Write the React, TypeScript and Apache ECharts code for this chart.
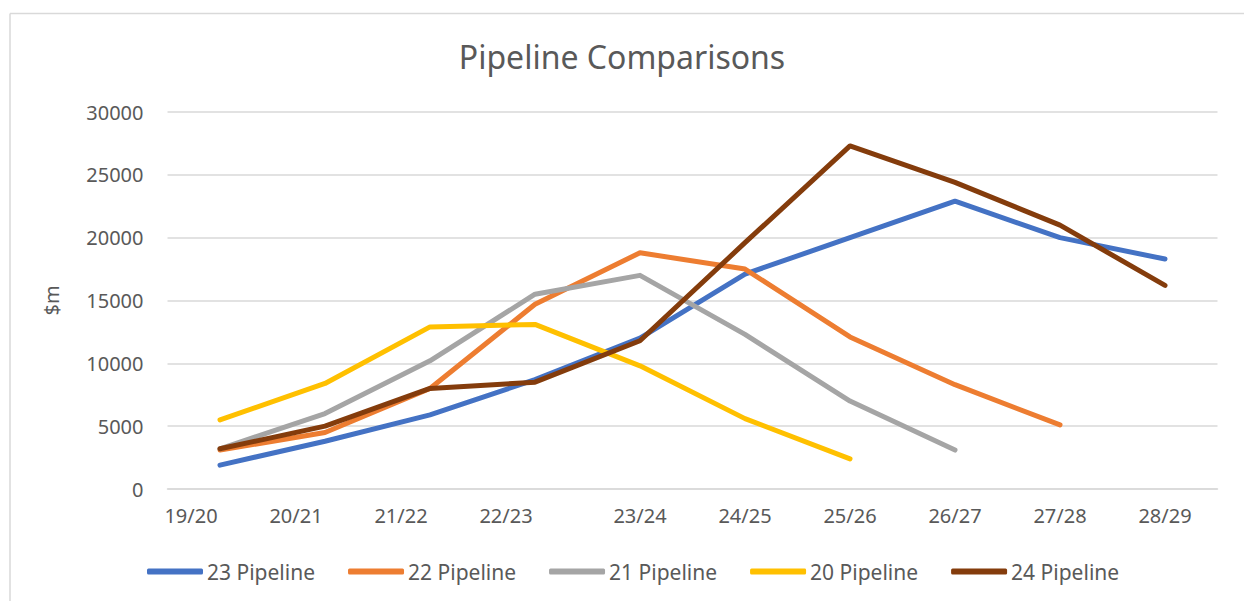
import React, { useEffect, useRef } from "react";
import * as echarts from "echarts";

const categories = ["19/20", "20/21", "21/22", "22/23", "23/24", "24/25", "25/26", "26/27", "27/28", "28/29"];
const pipeline23 = [1900, 3800, 5900, 8700, 12000, 17100, 20000, 22900, 20000, 18300];
const pipeline22 = [3100, 4500, 8000, 14700, 18800, 17500, 12100, 8300, 5100];
const pipeline21 = [3200, 6000, 10200, 15500, 17000, 12300, 7000, 3100];
const pipeline20 = [5500, 8400, 12900, 13100, 9800, 5600, 2400];
const pipeline24 = [3200, 5000, 8000, 8500, 11800, 19600, 27300, 24400, 21000, 16200];
const seriesNames = ["23 Pipeline", "22 Pipeline", "21 Pipeline", "20 Pipeline", "24 Pipeline"];
const seriesColors = ["#4472C4", "#ED7D31", "#A5A5A5", "#FFC000", "#843C0C"];
const yTicks = { min: 0, max: 30000, interval: 5000 };

const FONT = "'Noto Sans', sans-serif";
const TXT = "#595959";

export default function App() {
  const ref = useRef<HTMLDivElement>(null);
  useEffect(() => {
    if (!ref.current) return;
    const chart = echarts.init(ref.current, null, { renderer: "svg" });
    const data = [pipeline23, pipeline22, pipeline21, pipeline20, pipeline24];
    chart.setOption({
      animation: false,
      backgroundColor: "#ffffff",
      textStyle: { fontFamily: FONT },
      title: {
        text: "Pipeline Comparisons",
        left: "center",
        top: 40,
        padding: 0,
        textStyle: { fontFamily: FONT, fontSize: 32, fontWeight: "normal", color: TXT },
      },
      graphic: [
        { type: "line", shape: { x1: 10, y1: 13.5, x2: 1244, y2: 13.5 }, style: { stroke: "#d9d9d9", lineWidth: 1.5 } },
        { type: "line", shape: { x1: 10, y1: 13.5, x2: 10, y2: 601 }, style: { stroke: "#d9d9d9", lineWidth: 1.5 } },
      ],
      legend: {
        left: 147,
        top: 561,
        padding: 0,
        icon: "roundRect",
        itemWidth: 56,
        itemHeight: 6,
        itemGap: 33,
        data: seriesNames,
        textStyle: { fontFamily: FONT, fontSize: 21, color: TXT, padding: [0, 0, 0, -1] },
      },
      grid: { left: 167.5, right: 26.5, top: 112, bottom: 112, containLabel: false },
      xAxis: {
        type: "category",
        data: categories,
        boundaryGap: true,
        axisLine: { show: true, lineStyle: { color: "#d9d9d9", width: 1.5 } },
        axisTick: { show: false },
        axisLabel: {
          color: TXT,
          fontSize: 20,
          fontFamily: FONT,
          margin: 16,
          interval: 0,
          formatter: (v: string, i: number) => (i < 4 ? "{s|" + v + "}" : "{n|" + v + "}"),
          rich: {
            s: { fontSize: 20, fontFamily: FONT, color: TXT, padding: [0, 58, 0, 0] },
            n: { fontSize: 20, fontFamily: FONT, color: TXT },
          },
        },
      },
      yAxis: {
        type: "value",
        min: yTicks.min,
        max: yTicks.max,
        interval: yTicks.interval,
        name: "$m",
        nameLocation: "middle",
        nameGap: 106,
        nameTextStyle: { color: TXT, fontSize: 20, fontFamily: FONT },
        axisLine: { show: false },
        axisTick: { show: false },
        axisLabel: { color: TXT, fontSize: 20, fontFamily: FONT, margin: 24, formatter: (v: number) => String(v) },
        splitLine: { lineStyle: { color: "#d9d9d9", width: 1.5 } },
      },
      series: seriesNames.map((name, i) => ({
        name,
        type: "line",
        data: data[i],
        symbol: "none",
        showSymbol: false,
        color: seriesColors[i],
        lineStyle: { color: seriesColors[i], width: 5, cap: "round", join: "round" },
        itemStyle: { color: seriesColors[i] },
      })),
    });
    return () => chart.dispose();
  }, []);
  return <div ref={ref} style={{ position: "fixed", left: 0, top: 0, width: 1244, height: 601 }} />;
}
